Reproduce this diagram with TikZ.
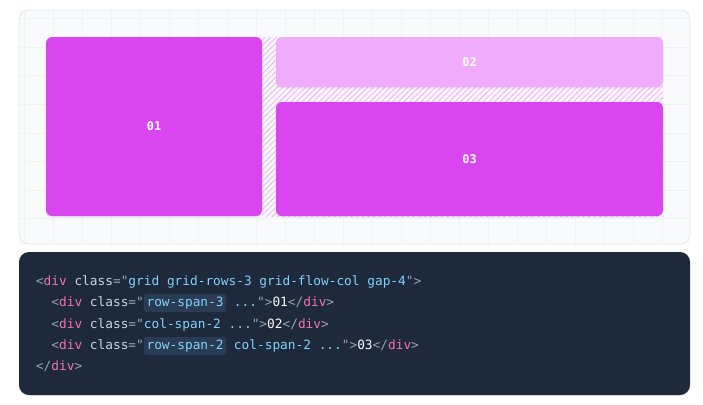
\documentclass[tikz,border=0pt]{standalone}
\usepackage{fontspec}
\usepackage{tikz}
\usetikzlibrary{positioning,patterns.meta,shadows}
\newfontfamily\codefont{DejaVu Sans Mono}

\definecolor{panelbg}{HTML}{F8FAFC}
\definecolor{panelline}{HTML}{E5E7EB}
\definecolor{gridline}{HTML}{F0F2F5}
\definecolor{fuchsiaA}{HTML}{D946EF}
\definecolor{fuchsiaB}{HTML}{F0ABFC}
\definecolor{hatchbg}{HTML}{FDF4FF}
\definecolor{hatchline}{HTML}{E2A6F0}
\definecolor{codebg}{HTML}{1E293B}
\definecolor{hlbg}{HTML}{2A3C54}
\definecolor{punct}{HTML}{94A3B8}
\definecolor{tagname}{HTML}{F472B6}
\definecolor{attr}{HTML}{CBD5E1}
\definecolor{strval}{HTML}{7DD3FC}
\definecolor{plain}{HTML}{F8FAFC}

% code colouring
\newcommand{\pu}[1]{\textcolor{punct}{#1}}
\newcommand{\tg}[1]{\textcolor{tagname}{#1}}
\newcommand{\at}[1]{\textcolor{attr}{#1}}
\newcommand{\sv}[1]{\textcolor{strval}{#1}}
\newcommand{\pl}[1]{\textcolor{plain}{#1}}

\begin{document}
\begin{tikzpicture}[x=0.75pt, y=0.75pt,
	cell/.style={rounded corners=4.5pt, inner sep=0pt, text=white,
		font=\codefont\bfseries\fontsize{8.9}{10}\selectfont,
		drop shadow={shadow xshift=0pt, shadow yshift=-1.2pt, opacity=0.07, fill=black}},
	codeline/.style={anchor=base west, inner sep=0pt, outer sep=0pt,
		font=\codefont\fontsize{9.6}{11}\selectfont},
	hlpart/.style={codeline, fill=hlbg, rounded corners=2pt, inner xsep=2pt,
		text height=7pt, text depth=2.5pt, inner ysep=2pt}]
	\useasboundingbox (0,0) rectangle (703,-404);
	% top panel with faint grid
	\fill[panelbg] (19,-10) rectangle (690,-244);
	\begin{scope}
		\clip[rounded corners=7.5pt] (19,-10) rectangle (690,-244);
		\foreach \gx in {0,...,23}
			\draw[gridline, line width=0.4pt] (24+29*\gx,-10) -- (24+29*\gx,-244);
		\foreach \gy in {0,...,8}
			\draw[gridline, line width=0.4pt] (19,-18.5-28.6*\gy) -- (690,-18.5-28.6*\gy);
	\end{scope}
	\draw[panelline, rounded corners=7.5pt, line width=0.6pt] (19,-10) rectangle (690,-244);
	% gap area
	\fill[hatchbg] (262,-37) rectangle (663,-216);
	\fill[pattern={Lines[angle=45, distance=3pt, line width=0.45pt]}, pattern color=hatchline]
		(262,-37) rectangle (663,-216);
	% grid items
	\node[cell, fill=fuchsiaA, minimum width=162pt, minimum height=134.25pt] (c01) at (154,-126.5) {01};
	\node[cell, fill=fuchsiaB, minimum width=290.25pt, minimum height=37.5pt] (c02) at (469.5,-62) {02};
	\node[cell, fill=fuchsiaA, minimum width=290.25pt, minimum height=85.5pt] (c03) at (469.5,-159) {03};
	% code panel
	\fill[codebg, rounded corners=7.5pt,
		drop shadow={shadow xshift=0pt, shadow yshift=-1pt, opacity=0.06, fill=black}]
		(19,-252) rectangle (690,-395);
	\node[codeline] (l1) at (36,-285)
		{\pu{<}\tg{div} \at{class}\pu{="}\sv{grid grid-rows-3 grid-flow-col gap-4}\pu{">}};
	\node[codeline] (l2a) at (36,-306) {\hphantom{xx}\pu{<}\tg{div} \at{class}\pu{="}};
	\node[hlpart] (l2b) at (l2a.base east) {\sv{row-span-3}};
	\node[codeline] (l2c) at (l2b.base east)
		{\hphantom{x}\sv{...}\pu{">}\pl{01}\pu{</}\tg{div}\pu{>}};
	\node[codeline] (l3) at (36,-328)
		{\hphantom{xx}\pu{<}\tg{div} \at{class}\pu{="}\sv{col-span-2 ...}\pu{">}\pl{02}\pu{</}\tg{div}\pu{>}};
	\node[codeline] (l4a) at (36,-349) {\hphantom{xx}\pu{<}\tg{div} \at{class}\pu{="}};
	\node[hlpart] (l4b) at (l4a.base east) {\sv{row-span-2}};
	\node[codeline] (l4c) at (l4b.base east)
		{\hphantom{x}\sv{col-span-2 ...}\pu{">}\pl{03}\pu{</}\tg{div}\pu{>}};
	\node[codeline] (l5) at (36,-370) {\pu{</}\tg{div}\pu{>}};
\end{tikzpicture}
\end{document}
